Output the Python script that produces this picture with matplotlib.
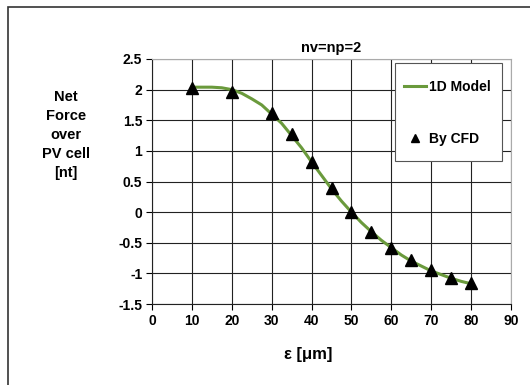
import matplotlib
matplotlib.use("Agg")
import matplotlib.pyplot as plt
from matplotlib.patches import Rectangle

plt.rcParams['font.family'] = ['Liberation Sans', 'DejaVu Sans']
plt.rcParams['font.weight'] = 'bold'

# 1D model curve
model_x = [10, 12.5, 15, 17.5, 20, 22.5, 25, 27.5, 30, 32.5, 35, 37.5, 40, 42.5,
           45, 47.5, 50, 52.5, 55, 57.5, 60, 62.5, 65, 67.5, 70, 72.5, 75, 77.5, 80]
model_y = [2.04, 2.04, 2.04, 2.03, 2.0, 1.94, 1.85, 1.75, 1.6, 1.45, 1.25, 1.05, 0.82, 0.6,
           0.38, 0.18, 0.0, -0.17, -0.32, -0.46, -0.58, -0.7, -0.8, -0.88, -0.96, -1.02, -1.08, -1.13, -1.17]

# CFD points
cfd_x = [10, 20, 30, 35, 40, 45, 50, 55, 60, 65, 70, 75, 80]
cfd_y = [2.03, 1.96, 1.62, 1.27, 0.82, 0.40, 0.0, -0.32, -0.58, -0.78, -0.95, -1.07, -1.16]

x_ticks = [0, 10, 20, 30, 40, 50, 60, 70, 80, 90]
y_ticks = [-1.5, -1, -0.5, 0, 0.5, 1, 1.5, 2, 2.5]
y_labels = ['-1.5', '-1', '-0.5', '0', '0.5', '1', '1.5', '2', '2.5']

W, H = 530, 385
fig = plt.figure(figsize=(5.3, 3.85), dpi=100)
# outer chart border (cut off on the right and bottom)
fig.patches.append(Rectangle((8 / W, -0.1), 1.2, 1 - 7 / H + 0.1,
                             transform=fig.transFigure, fill=False,
                             edgecolor='#333333', linewidth=1.2))

ax = fig.add_axes([152 / W, 1 - 304 / H, (511 - 152) / W, (304 - 59) / H])
ax.plot(model_x, model_y, color='#6a9a3c', linewidth=2.2, label='1D Model', zorder=3)
ax.plot(cfd_x, cfd_y, linestyle='none', marker='^', color='black', markersize=9,
        label='By CFD', zorder=4)

ax.set_xlim(0, 90)
ax.set_ylim(-1.5, 2.5)
ax.set_xticks(x_ticks)
ax.set_yticks(y_ticks)
ax.set_yticklabels(y_labels)
ax.grid(True, color='#222222', linewidth=0.8)
ax.tick_params(direction='out', length=4, width=0.8, labelsize=10, pad=3)
for s in ['top', 'right']:
    ax.spines[s].set_color('#aaaaaa')
for s in ['left', 'bottom']:
    ax.spines[s].set_color('#222222')

ax.set_title('nv=np=2', fontsize=10.5, fontweight='bold', pad=5)
fig.text(66 / W, 1 - 135 / H, 'Net\nForce\nover\nPV cell\n[nt]', ha='center', va='center',
         fontsize=10.5, fontweight='bold', linespacing=1.45)
fig.text(308 / W, 1 - 355 / H, 'ε [μm]', ha='center', va='center',
         fontsize=12, fontweight='bold')

# legend box drawn separately so its padding matches the original
box = Rectangle((395 / W, 1 - 161 / H), (502 - 395) / W, (161 - 63) / H,
                transform=fig.transFigure, facecolor='white', edgecolor='#555555',
                linewidth=0.8, zorder=5)
fig.patches.append(box)
handles, labels = ax.get_legend_handles_labels()
leg = fig.legend(handles, labels, loc='center', bbox_to_anchor=(447 / W, 1 - 113 / H),
                 frameon=False, fontsize=10, labelspacing=2.7, borderpad=0,
                 handlelength=1.6, handletextpad=0.2, markerscale=0.6, borderaxespad=0)
leg.set_zorder(6)

fig.savefig('out.png', dpi=100)
